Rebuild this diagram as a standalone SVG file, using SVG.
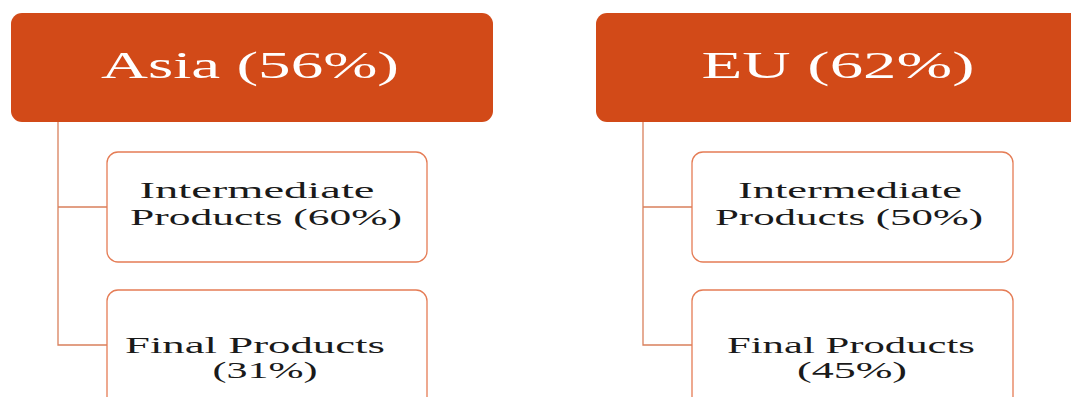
<svg xmlns="http://www.w3.org/2000/svg" width="1071" height="397" viewBox="0 0 1071 397">
<style>
.hdr{fill:#D24A18;}
.child{fill:#ffffff;stroke:#E57C55;stroke-width:1.3;}
.conn{fill:none;stroke:#D9805C;stroke-width:1.3;}
.ht{font-size:37px;fill:#ffffff;text-anchor:middle;}
.ct{font-size:24px;fill:#1a1a1a;text-anchor:middle;}
</style>
<rect width="1071" height="397" fill="#ffffff"/>
<g id="connectors">
<path class="conn" d="M58,122 V345 H107 M58,207 H107"/>
<path class="conn" d="M643,122 V345 H692 M643,207 H692"/>
</g>
<g id="asia" font-family="Liberation Serif, serif">
<rect class="hdr" x="11" y="13" width="482" height="109" rx="11"/>
<text class="ht" x="250" y="78" textLength="298" lengthAdjust="spacingAndGlyphs">Asia (56%)</text>
</g>
<g id="asia-intermediate" font-family="Liberation Serif, serif">
<rect class="child" x="107" y="152" width="320" height="110" rx="11"/>
<text class="ct" x="257" y="198" textLength="235" lengthAdjust="spacingAndGlyphs">Intermediate</text>
<text class="ct" x="266" y="225" textLength="272" lengthAdjust="spacingAndGlyphs">Products (60%)</text>
</g>
<g id="asia-final" font-family="Liberation Serif, serif">
<rect class="child" x="107" y="290" width="320" height="120" rx="11"/>
<text class="ct" x="255" y="353" textLength="260" lengthAdjust="spacingAndGlyphs">Final Products</text>
<text class="ct" x="265" y="378" textLength="105" lengthAdjust="spacingAndGlyphs">(31%)</text>
</g>
<g id="eu" font-family="Liberation Serif, serif">
<rect class="hdr" x="596" y="13" width="485" height="109" rx="11"/>
<text class="ht" x="838" y="78" textLength="273" lengthAdjust="spacingAndGlyphs">EU (62%)</text>
</g>
<g id="eu-intermediate" font-family="Liberation Serif, serif">
<rect class="child" x="692" y="152" width="321" height="110" rx="11"/>
<text class="ct" x="850" y="198" textLength="224" lengthAdjust="spacingAndGlyphs">Intermediate</text>
<text class="ct" x="849" y="225" textLength="268" lengthAdjust="spacingAndGlyphs">Products (50%)</text>
</g>
<g id="eu-final" font-family="Liberation Serif, serif">
<rect class="child" x="692" y="290" width="321" height="120" rx="11"/>
<text class="ct" x="851" y="353" textLength="248" lengthAdjust="spacingAndGlyphs">Final Products</text>
<text class="ct" x="852" y="378" textLength="110" lengthAdjust="spacingAndGlyphs">(45%)</text>
</g>
</svg>
